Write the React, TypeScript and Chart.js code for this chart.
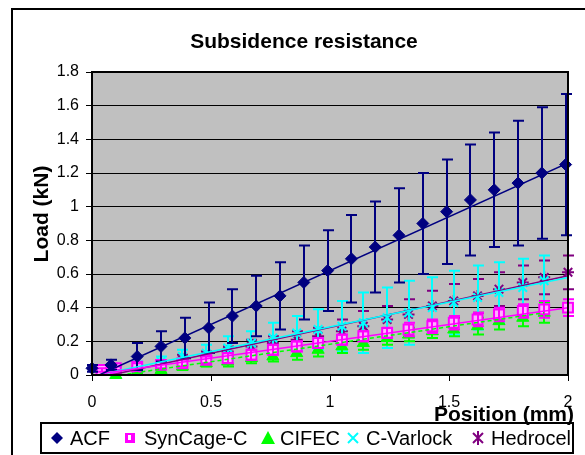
import React, { useEffect, useRef } from 'react';
import { Chart, registerables } from 'chart.js';

Chart.register(...registerables);

const FONT = '"Liberation Sans", Arial, sans-serif';

const chartTitle = 'Subsidence resistance';
const xTitle = 'Position (mm)';
const yTitle = 'Load (kN)';
const xTickLabels = ['0', '0.5', '1', '1.5', '2'];
const yTickLabels = ['0', '0.2', '0.4', '0.6', '0.8', '1', '1.2', '1.4', '1.6', '1.8'];
const seriesNames = ['ACF', 'SynCage-C', 'CIFEC', 'C-Varlock', 'Hedrocel'];
const seriesColors = ['#000080', '#FF00FF', '#00FF00', '#00FFFF', '#800080'];

const acfX = [0, 0.08, 0.19, 0.29, 0.39, 0.49, 0.59, 0.69, 0.79, 0.89, 0.99, 1.09, 1.19, 1.29, 1.39, 1.49, 1.59, 1.69, 1.79, 1.89, 1.99];
const acfY = [0.04, 0.06, 0.11, 0.17, 0.22, 0.28, 0.35, 0.41, 0.47, 0.55, 0.62, 0.69, 0.76, 0.83, 0.9, 0.97, 1.04, 1.1, 1.14, 1.2, 1.25];
const acfErr = [0.02, 0.03, 0.08, 0.09, 0.12, 0.15, 0.16, 0.18, 0.2, 0.22, 0.24, 0.26, 0.27, 0.28, 0.3, 0.31, 0.33, 0.34, 0.37, 0.39, 0.42];

const synX = [0.04, 0.1, 0.19, 0.29, 0.38, 0.48, 0.57, 0.67, 0.76, 0.86, 0.95, 1.05, 1.14, 1.24, 1.33, 1.43, 1.52, 1.62, 1.71, 1.81, 1.9, 2.0];
const synY = [0.03, 0.04, 0.05, 0.06, 0.07, 0.09, 0.1, 0.12, 0.15, 0.17, 0.19, 0.21, 0.23, 0.25, 0.27, 0.29, 0.31, 0.33, 0.36, 0.38, 0.39, 0.4];
const synErr = [0.01, 0.01, 0.02, 0.02, 0.02, 0.02, 0.03, 0.03, 0.03, 0.03, 0.03, 0.03, 0.03, 0.03, 0.04, 0.04, 0.04, 0.04, 0.04, 0.04, 0.05, 0.05];

const cifX = [0.1, 0.19, 0.29, 0.38, 0.48, 0.57, 0.67, 0.76, 0.86, 0.95, 1.05, 1.14, 1.24, 1.33, 1.43, 1.52, 1.62, 1.71, 1.81, 1.9];
const cifY = [0.0, 0.02, 0.03, 0.05, 0.07, 0.08, 0.1, 0.11, 0.13, 0.15, 0.17, 0.19, 0.22, 0.24, 0.26, 0.27, 0.29, 0.32, 0.34, 0.37];
const cifErr = [0.01, 0.01, 0.02, 0.02, 0.02, 0.03, 0.03, 0.03, 0.04, 0.04, 0.04, 0.04, 0.04, 0.04, 0.04, 0.04, 0.05, 0.05, 0.05, 0.06];

const varX = [0.1, 0.19, 0.29, 0.38, 0.48, 0.57, 0.67, 0.76, 0.86, 0.95, 1.05, 1.14, 1.24, 1.33, 1.43, 1.52, 1.62, 1.71, 1.81, 1.9];
const varY = [0.03, 0.05, 0.08, 0.11, 0.13, 0.16, 0.19, 0.22, 0.25, 0.27, 0.29, 0.31, 0.34, 0.37, 0.4, 0.43, 0.46, 0.49, 0.52, 0.56];
const varErr = [0.02, 0.03, 0.03, 0.04, 0.05, 0.07, 0.07, 0.09, 0.1, 0.12, 0.15, 0.18, 0.18, 0.19, 0.18, 0.19, 0.19, 0.18, 0.17, 0.15];

const hedX = [0.1, 0.19, 0.29, 0.38, 0.48, 0.57, 0.67, 0.76, 0.86, 0.95, 1.05, 1.14, 1.24, 1.33, 1.43, 1.52, 1.62, 1.71, 1.81, 1.9, 2.0];
const hedY = [0.02, 0.04, 0.06, 0.09, 0.11, 0.14, 0.17, 0.19, 0.21, 0.23, 0.26, 0.29, 0.33, 0.36, 0.41, 0.44, 0.47, 0.51, 0.55, 0.58, 0.61];
const hedErr = [0.01, 0.02, 0.02, 0.03, 0.03, 0.03, 0.04, 0.04, 0.05, 0.05, 0.07, 0.09, 0.08, 0.09, 0.09, 0.1, 0.1, 0.1, 0.1, 0.1, 0.1];

// linear trendline end points
const acfTrendX = [0.03, 2.0];
const acfTrendY = [0.0, 1.26];
const synTrendX = [0.05, 2.0];
const synTrendY = [0.01, 0.4];
const cifTrendX = [0.12, 1.9];
const cifTrendY = [0.0, 0.37];
const varTrendX = [0.06, 2.0];
const varTrendY = [0.01, 0.58];
const hedTrendX = [0.08, 2.0];
const hedTrendY = [0.0, 0.59];

const pts = (xs: number[], ys: number[]) => xs.map((x, i) => ({ x, y: ys[i] }));

const bgPlugin = {
  id: 'bgPlugin',
  beforeDraw(chart: any) {
    const { ctx, chartArea: a } = chart;
    ctx.save();
    ctx.fillStyle = '#FFFFFF';
    ctx.fillRect(0, 0, chart.width, chart.height);
    ctx.strokeStyle = '#000';
    ctx.lineWidth = 2;
    ctx.strokeRect(12, 9, 700, 600);
    ctx.fillStyle = '#C0C0C0';
    ctx.fillRect(a.left, a.top, a.right - a.left, a.bottom - a.top);
    ctx.restore();
  },
};

const errorBars = {
  id: 'errorBars',
  afterDatasetDraw(chart: any, args: any) {
    const ds = chart.data.datasets[args.index];
    if (!ds.errors) return;
    const ctx = chart.ctx;
    const xs = chart.scales.x;
    const ys = chart.scales.y;
    ctx.save();
    ctx.strokeStyle = ds.borderColor;
    ctx.lineWidth = 2;
    ds.data.forEach((p: any, i: number) => {
      const e = ds.errors[i];
      const px = Math.round(xs.getPixelForValue(p.x));
      const yt = ys.getPixelForValue(p.y + e);
      const yb = ys.getPixelForValue(Math.max(p.y - e, 0));
      ctx.beginPath();
      ctx.moveTo(px, yt);
      ctx.lineTo(px, yb);
      ctx.moveTo(px - 5, yt);
      ctx.lineTo(px + 6, yt);
      ctx.moveTo(px - 5, yb);
      ctx.lineTo(px + 6, yb);
      ctx.stroke();
    });
    ctx.restore();
  },
};

function legendMarker(ctx: CanvasRenderingContext2D, i: number, x: number, y: number) {
  const c = seriesColors[i];
  ctx.save();
  ctx.fillStyle = c;
  ctx.strokeStyle = c;
  ctx.lineWidth = 2;
  ctx.beginPath();
  if (i === 0) {
    ctx.moveTo(x, y - 6); ctx.lineTo(x + 6, y); ctx.lineTo(x, y + 6); ctx.lineTo(x - 6, y); ctx.closePath(); ctx.fill();
  } else if (i === 1) {
    ctx.fillRect(x - 5, y - 5, 10, 10);
    ctx.fillStyle = '#FFFFFF';
    ctx.fillRect(x - 2, y - 3, 3, 5);
  } else if (i === 2) {
    ctx.moveTo(x, y - 7); ctx.lineTo(x + 7, y + 6); ctx.lineTo(x - 7, y + 6); ctx.closePath(); ctx.fill();
  } else if (i === 3) {
    ctx.moveTo(x - 5, y - 5); ctx.lineTo(x + 5, y + 5); ctx.moveTo(x + 5, y - 5); ctx.lineTo(x - 5, y + 5); ctx.stroke();
  } else {
    ctx.moveTo(x - 5, y - 5); ctx.lineTo(x + 5, y + 5); ctx.moveTo(x + 5, y - 5); ctx.lineTo(x - 5, y + 5);
    ctx.moveTo(x, y - 7); ctx.lineTo(x, y + 7); ctx.stroke();
  }
  ctx.restore();
}

const decorPlugin = {
  id: 'decorPlugin',
  afterDraw(chart: any) {
    const { ctx, chartArea: a } = chart;
    ctx.save();
    // plot border
    ctx.strokeStyle = '#000';
    ctx.lineWidth = 2;
    ctx.strokeRect(a.left, a.top, a.right - a.left, a.bottom - a.top);
    // title
    ctx.fillStyle = '#000';
    ctx.font = `bold 21px ${FONT}`;
    ctx.textAlign = 'center';
    ctx.textBaseline = 'middle';
    ctx.fillText(chartTitle, 304, 42);
    // y title
    ctx.save();
    ctx.translate(42, 214);
    ctx.rotate(-Math.PI / 2);
    ctx.fillText(yTitle, 0, 0);
    ctx.restore();
    // legend
    const lx = 41, ly = 423, lw = 532, lh = 30;
    ctx.fillStyle = '#FFFFFF';
    ctx.fillRect(lx, ly, lw, lh);
    ctx.save();
    ctx.beginPath();
    ctx.rect(lx, ly, lw, lh);
    ctx.clip();
    const markerX = [57, 130, 268, 353, 478];
    const textX = [70, 144, 280, 366, 491];
    ctx.font = `20px ${FONT}`;
    ctx.fillStyle = '#000';
    ctx.textAlign = 'left';
    ctx.textBaseline = 'middle';
    seriesNames.forEach((n, i) => {
      legendMarker(ctx, i, markerX[i], ly + lh / 2);
      ctx.fillText(n, textX[i], ly + lh / 2 + 1);
    });
    ctx.restore();
    ctx.strokeStyle = '#000';
    ctx.lineWidth = 2;
    ctx.strokeRect(lx, ly, lw, lh);
    // x title
    ctx.fillStyle = '#000';
    ctx.font = `bold 21px ${FONT}`;
    ctx.textAlign = 'right';
    ctx.textBaseline = 'middle';
    ctx.fillText(xTitle, 574, 415);
    ctx.restore();
  },
};

export default function App() {
  const ref = useRef<HTMLCanvasElement>(null);
  useEffect(() => {
    if (!ref.current) return;
    const scatter = (i: number, xs: number[], ys: number[], errs: number[], style: string, radius: number, fill: string, bw: number) => ({
      type: 'scatter' as const,
      label: seriesNames[i],
      data: pts(xs, ys),
      errors: errs,
      borderColor: seriesColors[i],
      backgroundColor: fill,
      pointStyle: style,
      pointRadius: radius,
      pointBorderWidth: bw,
      showLine: false,
      clip: false as any,
      order: i,
    });
    const trend = (i: number, xs: number[], ys: number[], dash: number[] = []) => ({
      type: 'line' as const,
      label: seriesNames[i] + ' trend',
      data: pts(xs, ys),
      borderColor: seriesColors[i],
      borderWidth: 1.5,
      borderDash: dash,
      pointRadius: 0,
      fill: false,
      order: i - 10,
    });
    const chart = new Chart(ref.current, {
      type: 'scatter',
      data: {
        datasets: [
          scatter(0, acfX, acfY, acfErr, 'rectRot', 6, seriesColors[0], 1),
          scatter(1, synX, synY, synErr, 'rect', 7, '#FFB0FF', 2),
          scatter(2, cifX, cifY, cifErr, 'triangle', 7, seriesColors[2], 1),
          scatter(3, varX, varY, varErr, 'crossRot', 6, seriesColors[3], 2),
          scatter(4, hedX, hedY, hedErr, 'star', 6, seriesColors[4], 2),
          trend(0, acfTrendX, acfTrendY),
          trend(1, synTrendX, synTrendY),
          trend(2, cifTrendX, cifTrendY, [4, 3]),
          trend(3, varTrendX, varTrendY),
          trend(4, hedTrendX, hedTrendY),
        ] as any,
      },
      options: {
        animation: false,
        responsive: false,
        devicePixelRatio: 1,
        layout: { padding: { left: 0, right: 17, top: 72, bottom: 0 } },
        plugins: { legend: { display: false }, title: { display: false }, tooltip: { enabled: false } },
        scales: {
          x: {
            type: 'linear',
            min: 0,
            max: 2,
            afterFit: (s: any) => { s.height = 80; },
            ticks: {
              stepSize: 0.5,
              color: '#000',
              font: { family: FONT, size: 16 },
              padding: 12,
              maxRotation: 0,
              callback: (_v: any, idx: number) => xTickLabels[idx],
            },
            grid: { drawOnChartArea: false, drawTicks: true, tickLength: 6, color: '#000', lineWidth: 1 },
            border: { display: true, color: '#000', width: 2 },
          },
          y: {
            type: 'linear',
            min: 0,
            max: 1.8,
            afterFit: (s: any) => { s.width = 92; },
            ticks: {
              stepSize: 0.2,
              color: '#000',
              font: { family: FONT, size: 16 },
              padding: 7,
              callback: (_v: any, idx: number) => yTickLabels[idx],
            },
            grid: { color: '#000', lineWidth: 1, drawTicks: true, tickLength: 6 },
            border: { display: true, color: '#000', width: 2 },
          },
        },
      },
      plugins: [bgPlugin, errorBars, decorPlugin],
    } as any);
    return () => chart.destroy();
  }, []);
  return (
    <div style={{ position: 'absolute', left: 0, top: 0, width: 585, height: 455 }}>
      <canvas ref={ref} width={585} height={455} style={{ display: 'block' }} />
    </div>
  );
}
